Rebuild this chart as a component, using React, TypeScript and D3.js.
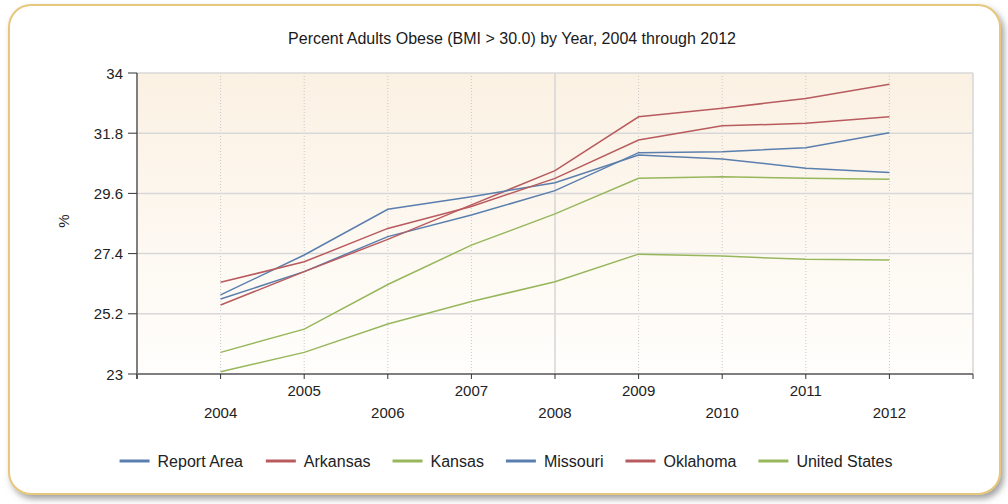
import React from "react";
import * as d3 from "d3";

const years = [2004, 2005, 2006, 2007, 2008, 2009, 2010, 2011, 2012];
const reportArea = [25.74, 26.74, 28.02, 28.81, 29.7, 31.09, 31.12, 31.27, 31.82];
const arkansas = [25.52, 26.74, 27.92, 29.18, 30.43, 32.4, 32.71, 33.07, 33.59];
const kansas = [23.79, 24.64, 26.27, 27.71, 28.85, 30.15, 30.21, 30.15, 30.12];
const missouri = [25.89, 27.35, 29.02, 29.48, 29.99, 31.0, 30.86, 30.52, 30.36];
const oklahoma = [26.35, 27.1, 28.32, 29.12, 30.15, 31.55, 32.07, 32.16, 32.4];
const unitedStates = [23.08, 23.79, 24.83, 25.65, 26.37, 27.38, 27.31, 27.19, 27.17];

const seriesNames = ["Report Area", "Arkansas", "Kansas", "Missouri", "Oklahoma", "United States"];
const seriesValues = [reportArea, arkansas, kansas, missouri, oklahoma, unitedStates];
const seriesColors = ["#5a7fae", "#b85b5e", "#97b75c", "#5a7fae", "#b85b5e", "#97b75c"];

const yTicks = [23, 25.2, 27.4, 29.6, 31.8, 34];
const xDomain = [2003, 2013];
const title = "Percent Adults Obese (BMI > 30.0) by Year, 2004 through 2012";
const yLabel = "%";

const FONT = "'Liberation Sans', Arial, sans-serif";

function measure(text: string, size: number) {
  const c = document.createElement("canvas").getContext("2d");
  if (!c) return text.length * size * 0.5;
  c.font = `${size}px ${FONT}`;
  return c.measureText(text).width;
}

export default function App() {
  const W = 1008, H = 504;
  const plot = { left: 137, top: 73, right: 973, bottom: 374 };
  const x = d3.scaleLinear().domain(xDomain).range([plot.left, plot.right]);
  const y = d3.scaleLinear().domain([23, 34]).range([plot.bottom, plot.top]);
  const line = d3
    .line<number>()
    .x((_, i) => x(years[i]))
    .y((v) => y(v));

  const allYears = d3.range(xDomain[0], xDomain[1] + 1);
  const majorYears = allYears.filter((yr) => (yr - xDomain[0]) % 5 === 0);
  const minorYears = allYears.filter((yr) => (yr - xDomain[0]) % 5 !== 0);

  const lineW = 30, gapLT = 8, gapItem = 22, legSize = 16;
  const widths = seriesNames.map((n) => lineW + gapLT + measure(n, legSize));
  const total = d3.sum(widths) + gapItem * (widths.length - 1);
  let cursor = 506 - total / 2;
  const legendItems = seriesNames.map((n, i) => {
    const pos = cursor;
    cursor += widths[i] + gapItem;
    return { name: n, x: pos, color: seriesColors[i] };
  });
  const legendY = 461;

  return (
    <svg width={W} height={H} style={{ position: "absolute", left: 0, top: 0 }} fontFamily={FONT}>
      <defs>
        <linearGradient id="plotbg" x1="0" y1="0" x2="0" y2="1">
          <stop offset="0%" stopColor="#fbf1e3" />
          <stop offset="100%" stopColor="#fffefc" />
        </linearGradient>
        <filter id="shadow" x="-5%" y="-5%" width="110%" height="115%">
          <feDropShadow dx="3" dy="4" stdDeviation="3" floodColor="#555" floodOpacity="0.55" />
        </filter>
      </defs>
      <rect x={0} y={0} width={W} height={H} fill="#ffffff" />
      <rect
        x={9}
        y={5}
        width={991}
        height={489}
        rx={22}
        ry={22}
        fill="#ffffff"
        stroke="#e6c77c"
        strokeWidth={2}
        filter="url(#shadow)"
      />
      <text x={512} y={44} textAnchor="middle" fontSize={16} fill="#1a1a1a">
        {title}
      </text>

      <rect
        x={plot.left}
        y={plot.top}
        width={plot.right - plot.left}
        height={plot.bottom - plot.top}
        fill="url(#plotbg)"
      />
      {minorYears.map((yr) => (
        <line
          key={"mv" + yr}
          x1={x(yr)}
          x2={x(yr)}
          y1={plot.top}
          y2={plot.bottom}
          stroke="#c9c9c9"
          strokeWidth={1}
          strokeDasharray="1,2"
        />
      ))}
      {majorYears.map((yr) => (
        <line
          key={"Mv" + yr}
          x1={x(yr)}
          x2={x(yr)}
          y1={plot.top}
          y2={plot.bottom}
          stroke="#d6d6d6"
          strokeWidth={1.5}
        />
      ))}
      {yTicks.map((t) => (
        <line
          key={"h" + t}
          x1={plot.left}
          x2={plot.right}
          y1={y(t)}
          y2={y(t)}
          stroke="#d8d8d8"
          strokeWidth={1.5}
        />
      ))}

      {seriesValues.map((vals, i) => (
        <path
          key={seriesNames[i]}
          d={line(vals) || ""}
          fill="none"
          stroke={seriesColors[i]}
          strokeWidth={1.5}
        />
      ))}

      <line x1={plot.left} x2={plot.left} y1={plot.top} y2={plot.bottom + 5} stroke="#7f7f7f" strokeWidth={2} />
      <line x1={plot.left} x2={plot.right} y1={plot.bottom} y2={plot.bottom} stroke="#7f7f7f" strokeWidth={2} />
      {yTicks.map((t) => (
        <g key={"yt" + t}>
          <line x1={plot.left - 9} x2={plot.left} y1={y(t)} y2={y(t)} stroke="#333" strokeWidth={1} />
          <text x={plot.left - 14} y={y(t) + 5.5} textAnchor="end" fontSize={15} fill="#222">
            {t}
          </text>
        </g>
      ))}
      {allYears.map((yr) => (
        <line
          key={"xt" + yr}
          x1={x(yr)}
          x2={x(yr)}
          y1={plot.bottom}
          y2={plot.bottom + 5}
          stroke="#333"
          strokeWidth={1}
        />
      ))}
      {years.map((yr) => (
        <text
          key={"xl" + yr}
          x={x(yr)}
          y={yr % 2 === 1 ? 395.5 : 417.5}
          textAnchor="middle"
          fontSize={15}
          fill="#222"
        >
          {yr}
        </text>
      ))}
      <text
        x={0}
        y={0}
        transform={`translate(69,221) rotate(-90)`}
        textAnchor="middle"
        fontSize={15}
        fill="#222"
      >
        {yLabel}
      </text>

      {legendItems.map((it) => (
        <g key={"lg" + it.name}>
          <line
            x1={it.x}
            x2={it.x + lineW}
            y1={legendY}
            y2={legendY}
            stroke={it.color}
            strokeWidth={3}
          />
          <text x={it.x + lineW + gapLT} y={legendY + 5.5} fontSize={legSize} fill="#222">
            {it.name}
          </text>
        </g>
      ))}
    </svg>
  );
}
